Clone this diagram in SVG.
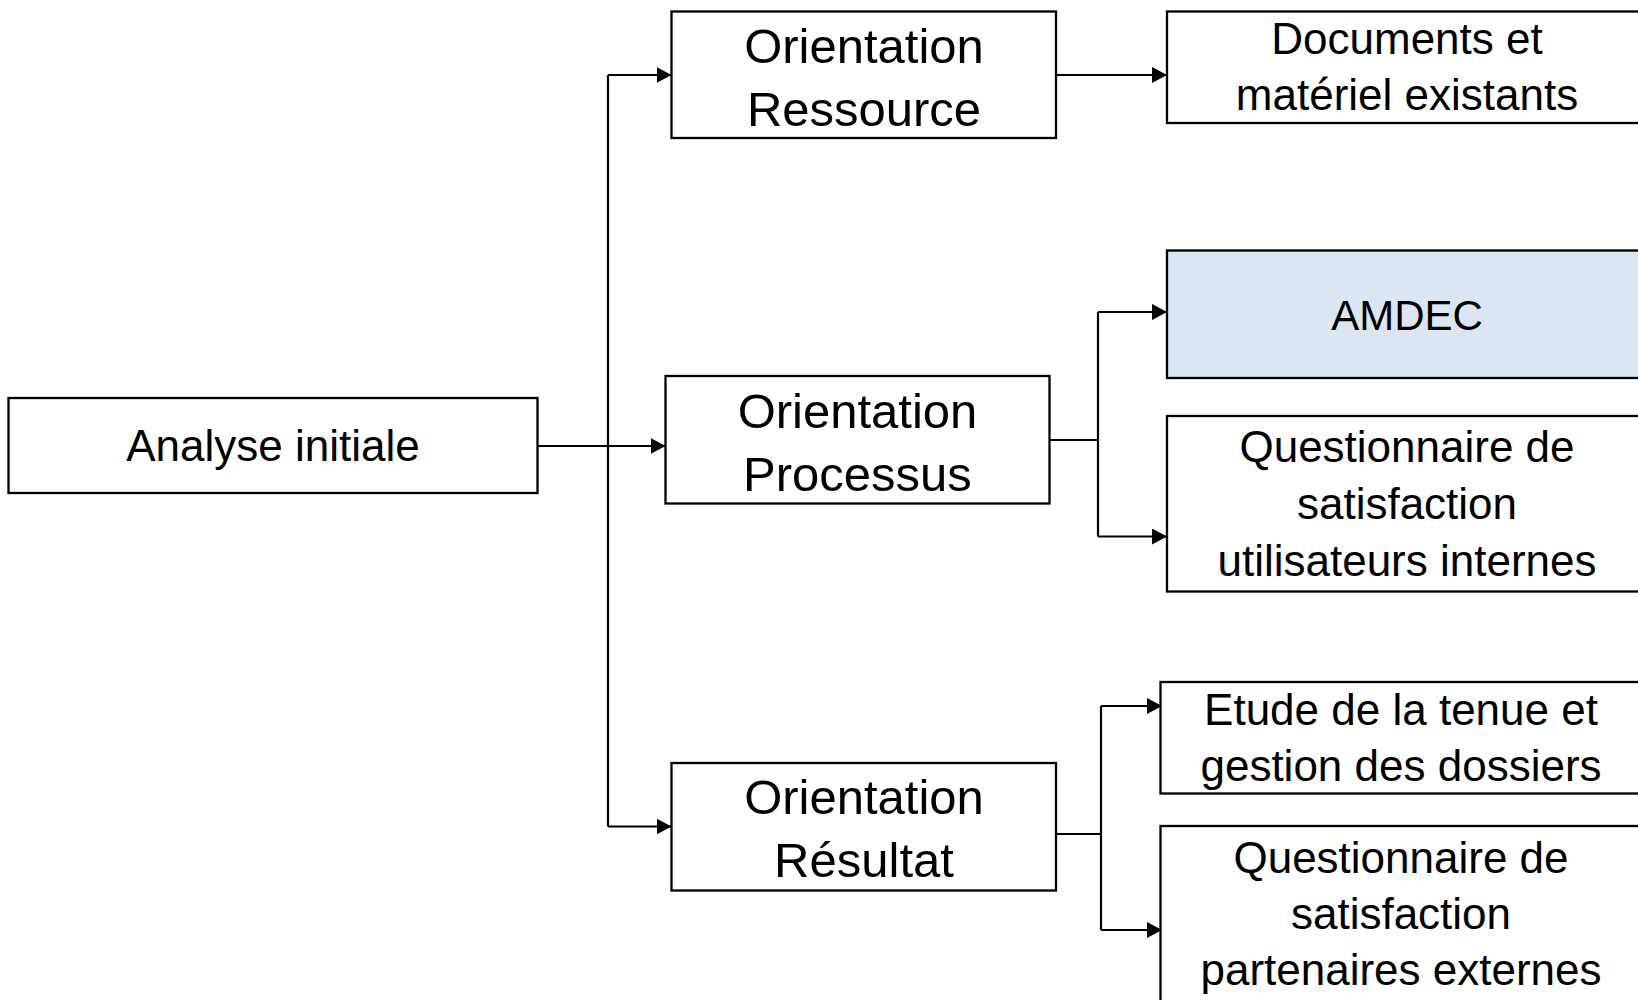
<svg xmlns="http://www.w3.org/2000/svg" width="1638" height="1000" viewBox="0 0 1638 1000">
  <style>
    .box { fill: #ffffff; stroke: #000000; stroke-width: 2.3; }
    .hl { fill: #DCE6F2; }
    .lbl { font-family: "Liberation Sans", Arial, sans-serif; font-size: 44px; fill: #000000; text-anchor: middle; }
    .big { font-size: 49px; }
    .amd { font-size: 42px; }
    .wire { fill: none; stroke: #000000; stroke-width: 2.2; }
  </style>
  <defs>
    <marker id="arr" markerUnits="userSpaceOnUse" markerWidth="15" markerHeight="16" viewBox="0 0 15 16" refX="15" refY="8" orient="auto">
      <path d="M0,0 L15,8 L0,16 Z" fill="#000000"/>
    </marker>
  </defs>
  <rect x="0" y="0" width="1638" height="1000" fill="#ffffff"/>

  <g id="connectors">
    <path class="wire" d="M537.5,446 H665.5" marker-end="url(#arr)"/>
    <path class="wire" d="M608,75 V826.5"/>
    <path class="wire" d="M608,75 H671.5" marker-end="url(#arr)"/>
    <path class="wire" d="M608,826.5 H671.5" marker-end="url(#arr)"/>
    <path class="wire" d="M1056,75 H1167" marker-end="url(#arr)"/>
    <path class="wire" d="M1049.5,440 H1098"/>
    <path class="wire" d="M1098,312 V536.5"/>
    <path class="wire" d="M1098,312 H1167" marker-end="url(#arr)"/>
    <path class="wire" d="M1098,536.5 H1167" marker-end="url(#arr)"/>
    <path class="wire" d="M1053,834 H1101"/>
    <path class="wire" d="M1101,706 V930"/>
    <path class="wire" d="M1101,706 H1162" marker-end="url(#arr)"/>
    <path class="wire" d="M1101,930 H1162" marker-end="url(#arr)"/>
  </g>

  <g id="analyse">
    <rect class="box" x="8.5" y="398" width="529" height="95"/>
    <text class="lbl" x="273" y="461">Analyse initiale</text>
  </g>

  <g id="ressource">
    <rect class="box" x="671.5" y="11.5" width="384.5" height="126.5"/>
    <text class="lbl big" x="864" y="63">Orientation</text>
    <text class="lbl big" x="864" y="126">Ressource</text>
  </g>

  <g id="processus">
    <rect class="box" x="665.5" y="376" width="384" height="127.5"/>
    <text class="lbl big" x="857.5" y="428">Orientation</text>
    <text class="lbl big" x="857.5" y="491">Processus</text>
  </g>

  <g id="resultat">
    <rect class="box" x="671.5" y="763" width="384.5" height="127.5"/>
    <text class="lbl big" x="864" y="814">Orientation</text>
    <text class="lbl big" x="864" y="877">Résultat</text>
  </g>

  <g id="documents">
    <rect class="box" x="1167" y="11.5" width="500" height="111.5"/>
    <text class="lbl" x="1407" y="54">Documents et</text>
    <text class="lbl" x="1407" y="110">matériel existants</text>
  </g>

  <g id="amdec">
    <rect class="box hl" x="1167" y="250.5" width="500" height="127.5"/>
    <text class="lbl amd" x="1407" y="330">AMDEC</text>
  </g>

  <g id="questionnaire-internes">
    <rect class="box" x="1167" y="416" width="500" height="175.5"/>
    <text class="lbl" x="1407" y="462">Questionnaire de</text>
    <text class="lbl" x="1407" y="519">satisfaction</text>
    <text class="lbl" x="1407" y="576">utilisateurs internes</text>
  </g>

  <g id="etude">
    <rect class="box" x="1160.5" y="682" width="500" height="111.5"/>
    <text class="lbl" x="1401" y="725">Etude de la tenue et</text>
    <text class="lbl" x="1401" y="781">gestion des dossiers</text>
  </g>

  <g id="questionnaire-externes">
    <rect class="box" x="1160.5" y="826" width="500" height="200"/>
    <text class="lbl" x="1401" y="873">Questionnaire de</text>
    <text class="lbl" x="1401" y="929">satisfaction</text>
    <text class="lbl" x="1401" y="985">partenaires externes</text>
  </g>
</svg>
